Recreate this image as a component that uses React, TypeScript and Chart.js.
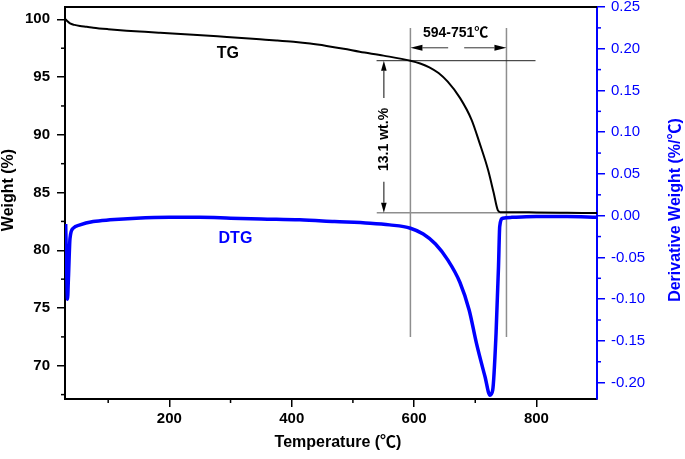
import React, { useEffect, useRef } from 'react';
import { Chart, registerables } from 'chart.js';

Chart.register(...registerables);

// ---- data ----
const tgTemp = [30, 37.6, 45, 54, 65, 75.6, 100, 130, 160, 185, 239, 294, 348, 375, 403, 430, 457, 485, 511, 550, 594, 610, 625, 640, 655, 675, 694, 707, 721, 730, 737, 741, 760, 800, 850, 900];
const tgWeight = [100, 99.65, 99.52, 99.43, 99.36, 99.28, 99.15, 99.02, 98.92, 98.84, 98.67, 98.47, 98.27, 98.17, 98.05, 97.9, 97.7, 97.46, 97.2, 96.86, 96.42, 96.18, 95.85, 95.35, 94.6, 93.2, 91.3, 89.3, 86.95, 85.0, 83.45, 83.3, 83.3, 83.28, 83.25, 83.22];

const dtgTemp = [30.5, 32, 33.5, 35, 37.6, 43, 54, 75.6, 103, 146, 200, 250, 300, 350, 413, 470, 528, 560, 594, 615, 635, 655, 675, 690, 702, 716, 724, 728.5, 734, 738, 740, 745, 760, 800, 850, 900];
const dtgValue = [-0.010, -0.06, -0.100, -0.075, -0.027, -0.015, -0.011, -0.007, -0.005, -0.003, -0.002, -0.002, -0.003, -0.004, -0.005, -0.007, -0.009, -0.011, -0.015, -0.022, -0.034, -0.053, -0.080, -0.113, -0.153, -0.193, -0.215, -0.209, -0.141, -0.061, -0.013, -0.003, -0.002, -0.001, -0.001, -0.002];

const xMajorTicks = [200, 400, 600, 800];
const xMinorTicks = [100, 300, 500, 700];
const yMajorTicks = [70, 75, 80, 85, 90, 95, 100];
const yMinorTicks = [67.5, 72.5, 77.5, 82.5, 87.5, 92.5, 97.5];
const y1MajorTicks = [-0.2, -0.15, -0.1, -0.05, 0, 0.05, 0.1, 0.15, 0.2, 0.25];
const y1MinorTicks = [-0.175, -0.125, -0.075, -0.025, 0.025, 0.075, 0.125, 0.175, 0.225];

// annotation values
const rangeTemps = [594, 751];
const rangeLabel = '594-751℃';
const lossTop = 96.42;
const lossBottom = 83.26;
const lossLabel = '13.1 wt.%';
const lossTemp = 550.6;

const FONT = "Arial, 'Liberation Sans', 'Noto Sans CJK SC', sans-serif";
const BLUE = '#0000FF';
const GRAY = '#8e8e8e';

function arrow(ctx: CanvasRenderingContext2D, x1: number, y1: number, x2: number, y2: number, head: number, half: number) {
  const ang = Math.atan2(y2 - y1, x2 - x1);
  const bx = x2 - head * Math.cos(ang);
  const by = y2 - head * Math.sin(ang);
  ctx.beginPath();
  ctx.moveTo(x1, y1);
  ctx.lineTo(bx, by);
  ctx.stroke();
  ctx.beginPath();
  ctx.moveTo(x2, y2);
  ctx.lineTo(bx + half * Math.sin(ang), by - half * Math.cos(ang));
  ctx.lineTo(bx - half * Math.sin(ang), by + half * Math.cos(ang));
  ctx.closePath();
  ctx.fill();
}

function line(ctx: CanvasRenderingContext2D, x1: number, y1: number, x2: number, y2: number) {
  ctx.beginPath();
  ctx.moveTo(x1, y1);
  ctx.lineTo(x2, y2);
  ctx.stroke();
}

const annotPlugin = {
  id: 'annot',
  beforeDatasetsDraw(chart: any) {
    const { ctx, chartArea: ca, scales } = chart;
    const x = scales.x, y = scales.y;
    ctx.save();
    // vertical range lines
    ctx.strokeStyle = GRAY;
    ctx.lineWidth = 1.5;
    for (const t of rangeTemps) {
      const px = x.getPixelForValue(t);
      line(ctx, px, y.getPixelForValue(99.25), px, y.getPixelForValue(72.5));
    }
    // lower horizontal line
    line(ctx, x.getPixelForValue(539), y.getPixelForValue(lossBottom), ca.right, y.getPixelForValue(lossBottom));
    // upper horizontal line
    ctx.strokeStyle = '#222';
    ctx.lineWidth = 1;
    line(ctx, x.getPixelForValue(538.7), y.getPixelForValue(lossTop), x.getPixelForValue(798.5), y.getPixelForValue(lossTop));

    // range arrows
    ctx.strokeStyle = '#555';
    ctx.fillStyle = '#000';
    ctx.lineWidth = 1.2;
    const ay = y.getPixelForValue(97.54);
    arrow(ctx, x.getPixelForValue(655.7), ay, x.getPixelForValue(rangeTemps[0]), ay, 12, 3);
    arrow(ctx, x.getPixelForValue(681.9), ay, x.getPixelForValue(rangeTemps[1]), ay, 12, 3);

    // loss arrows
    ctx.strokeStyle = '#333';
    const lx = x.getPixelForValue(lossTemp);
    arrow(ctx, lx, y.getPixelForValue(93.19), lx, y.getPixelForValue(lossTop), 10, 2.8);
    arrow(ctx, lx, y.getPixelForValue(85.94), lx, y.getPixelForValue(lossBottom), 10, 2.8);

    // texts
    ctx.fillStyle = '#000';
    ctx.font = `bold 14px ${FONT}`;
    ctx.textAlign = 'center';
    ctx.textBaseline = 'middle';
    ctx.fillText(rangeLabel, x.getPixelForValue(668), y.getPixelForValue(98.84));
    ctx.save();
    ctx.translate(lx, y.getPixelForValue(89.6));
    ctx.rotate(-Math.PI / 2);
    ctx.fillText(lossLabel, 0, 0);
    ctx.restore();

    ctx.font = `bold 16px ${FONT}`;
    ctx.fillText('TG', x.getPixelForValue(295.7), y.getPixelForValue(97.0));
    ctx.fillStyle = BLUE;
    ctx.fillText('DTG', x.getPixelForValue(308), scales.y1.getPixelForValue(-0.027));
    ctx.restore();
  },
  afterDraw(chart: any) {
    const { ctx, chartArea: ca, scales } = chart;
    const x = scales.x, y = scales.y, y1 = scales.y1;
    ctx.save();
    // top border
    ctx.strokeStyle = '#000';
    ctx.lineWidth = 2;
    line(ctx, ca.left - 1, ca.top, ca.right, ca.top);
    // minor ticks
    ctx.lineWidth = 1.5;
    for (const v of xMinorTicks) {
      const px = x.getPixelForValue(v);
      line(ctx, px, ca.bottom, px, ca.bottom + 4);
    }
    for (const v of yMinorTicks) {
      const py = y.getPixelForValue(v);
      line(ctx, ca.left, py, ca.left - 4, py);
    }
    ctx.strokeStyle = BLUE;
    for (const v of y1MinorTicks) {
      const py = y1.getPixelForValue(v);
      line(ctx, ca.right, py, ca.right + 4, py);
    }
    // axis titles
    ctx.textAlign = 'center';
    ctx.textBaseline = 'middle';
    ctx.font = `bold 16px ${FONT}`;
    ctx.fillStyle = '#000';
    ctx.fillText('Temperature (℃)', 338, 443);
    ctx.save();
    ctx.translate(9, 190);
    ctx.rotate(-Math.PI / 2);
    ctx.fillText('Weight (%)', 0, 0);
    ctx.restore();
    ctx.save();
    ctx.fillStyle = BLUE;
    ctx.translate(676, 210);
    ctx.rotate(-Math.PI / 2);
    ctx.fillText('Derivative Weight (%/℃)', 0, 0);
    ctx.restore();
    ctx.restore();
  },
};

export default function App() {
  const ref = useRef<HTMLCanvasElement | null>(null);
  useEffect(() => {
    document.body.style.margin = '0';
    const canvas = ref.current;
    if (!canvas) return;
    const chart = new Chart(canvas, {
      type: 'line',
      data: {
        datasets: [
          {
            label: 'DTG',
            data: dtgTemp.map((t, i) => ({ x: t, y: dtgValue[i] })),
            yAxisID: 'y1',
            xAxisID: 'x',
            borderColor: BLUE,
            borderWidth: 3.5,
            pointRadius: 0,
            cubicInterpolationMode: 'monotone',
            fill: false,
          },
          {
            label: 'TG',
            data: tgTemp.map((t, i) => ({ x: t, y: tgWeight[i] })),
            yAxisID: 'y',
            xAxisID: 'x',
            borderColor: '#000',
            borderWidth: 2,
            pointRadius: 0,
            cubicInterpolationMode: 'monotone',
            fill: false,
          },
        ],
      },
      options: {
        responsive: false,
        animation: false,
        events: [],
        layout: { padding: { top: 7, left: 0, right: 0, bottom: 0 } },
        plugins: { legend: { display: false }, tooltip: { enabled: false } },
        scales: {
          x: {
            type: 'linear',
            position: 'bottom',
            min: 29.4,
            max: 899,
            afterBuildTicks: (s: any) => { s.ticks = xMajorTicks.map((v) => ({ value: v })); },
            afterFit: (s: any) => { s.height = 60; s.paddingLeft = 0; s.paddingRight = 0; },
            grid: { drawOnChartArea: false, drawTicks: true, tickLength: 8, color: '#000', lineWidth: 1.5 },
            border: { color: '#000', width: 2 },
            ticks: { color: '#000', font: { family: FONT, size: 15, weight: 'bold' }, padding: 3, maxRotation: 0, autoSkip: false, callback: (v: any) => String(v) },
          },
          y: {
            type: 'linear',
            position: 'left',
            min: 67.12,
            max: 101.07,
            afterBuildTicks: (s: any) => { s.ticks = yMajorTicks.map((v) => ({ value: v })); },
            afterFit: (s: any) => { s.width = 65; s.paddingTop = 0; s.paddingBottom = 0; },
            grid: { drawOnChartArea: false, drawTicks: true, tickLength: 8, color: '#000', lineWidth: 1.5 },
            border: { color: '#000', width: 2 },
            ticks: { color: '#000', font: { family: FONT, size: 15, weight: 'bold' }, padding: 7, autoSkip: false, callback: (v: any) => String(v) },
          },
          y1: {
            type: 'linear',
            position: 'right',
            min: -0.2196,
            max: 0.25,
            afterBuildTicks: (s: any) => { s.ticks = y1MajorTicks.map((v) => ({ value: v })); },
            afterFit: (s: any) => { s.width = 88; s.paddingTop = 0; s.paddingBottom = 0; },
            grid: { drawOnChartArea: false, drawTicks: true, tickLength: 8, color: BLUE, lineWidth: 1.5 },
            border: { color: BLUE, width: 2 },
            ticks: { color: BLUE, font: { family: FONT, size: 15 }, padding: 6, autoSkip: false, callback: (v: any) => Number(v).toFixed(2) },
          },
        },
      } as any,
      plugins: [annotPlugin],
    });
    return () => chart.destroy();
  }, []);
  return (
    <div style={{ position: 'absolute', left: 0, top: 0, width: 685, height: 459, background: '#fff' }}>
      <canvas ref={ref} width={685} height={459} style={{ width: 685, height: 459, display: 'block' }} />
    </div>
  );
}
